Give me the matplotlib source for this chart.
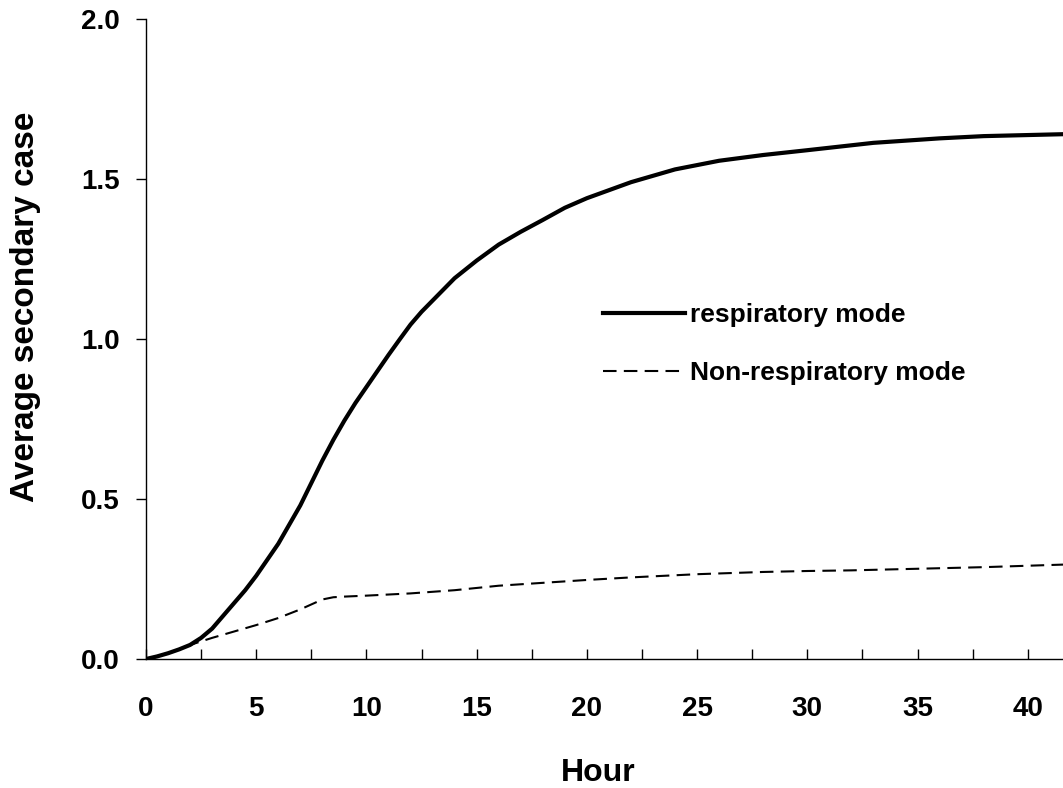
import matplotlib
matplotlib.use("Agg")
import matplotlib.pyplot as plt
from matplotlib.ticker import MultipleLocator

plt.rcParams['font.family'] = ['Liberation Sans', 'DejaVu Sans']
plt.rcParams['font.weight'] = 'bold'

# Respiratory mode (solid)
resp_hours = [0, 0.5, 1, 1.5, 2, 2.5, 3, 3.5, 4, 4.5, 5, 5.5, 6, 6.5, 7, 7.5, 8, 8.5,
              9, 9.5, 10, 10.5, 11, 11.5, 12, 12.5, 13, 14, 15, 16, 17, 18, 19, 20, 22,
              24, 26, 28, 30, 33, 36, 38, 41.6]
resp_values = [0, 0.008, 0.018, 0.03, 0.044, 0.066, 0.095, 0.135, 0.175, 0.215, 0.26, 0.31,
               0.36, 0.42, 0.48, 0.55, 0.62, 0.685, 0.745, 0.80, 0.85, 0.90, 0.95, 0.998,
               1.045, 1.085, 1.12, 1.19, 1.245, 1.295, 1.335, 1.372, 1.41, 1.44, 1.49,
               1.53, 1.557, 1.575, 1.59, 1.613, 1.627, 1.634, 1.64]

# Non-respiratory mode (dashed)
nonresp_hours = [0, 0.5, 1, 1.5, 2, 3, 4, 5, 6, 7, 8, 8.5, 9, 10, 12, 14, 16, 18, 20, 22,
                 25, 28, 30, 32, 35, 38, 41.6]
nonresp_values = [0, 0.008, 0.018, 0.03, 0.044, 0.066, 0.086, 0.106, 0.128, 0.155, 0.186,
                  0.193, 0.195, 0.198, 0.205, 0.215, 0.229, 0.238, 0.247, 0.255, 0.265,
                  0.272, 0.275, 0.277, 0.282, 0.287, 0.295]

series_labels = ['respiratory mode', 'Non-respiratory mode']
x_ticks = [0, 5, 10, 15, 20, 25, 30, 35, 40]
y_ticks = [0.0, 0.5, 1.0, 1.5, 2.0]

W, H = 1063, 788
fig = plt.figure(figsize=(W / 100, H / 100), dpi=100)
ax = fig.add_axes([146 / W, 1 - 659 / H, (W - 146) / W, (659 - 19) / H])

ax.plot(resp_hours, resp_values, color='black', lw=3.0, label=series_labels[0],
        solid_joinstyle='round')
ax.plot(nonresp_hours, nonresp_values, color='black', lw=1.5, dashes=(6.5, 3.5),
        label=series_labels[1])

ax.set_xlim(0, 41.6)
ax.set_ylim(0, 2.0)

for s in ['top', 'right']:
    ax.spines[s].set_visible(False)
for s in ['left', 'bottom']:
    ax.spines[s].set_linewidth(1.0)
    ax.spines[s].set_color('black')

ax.set_xticks(x_ticks)
ax.set_xticklabels([str(t) for t in x_ticks])
ax.xaxis.set_minor_locator(MultipleLocator(2.5))
ax.set_yticks(y_ticks)
ax.set_yticklabels([f"{t:.1f}" for t in y_ticks])

ax.tick_params(axis='x', which='both', direction='in', length=7, width=1, pad=27,
               labelsize=20, colors='black')
ax.tick_params(axis='y', which='major', direction='out', length=7, width=1, pad=12,
               labelsize=20, colors='black')
for lab in ax.get_xticklabels() + ax.get_yticklabels():
    lab.set_fontweight('bold')

ax.set_xlabel('Hour', fontsize=23, fontweight='bold')
ax.set_ylabel('Average secondary case', fontsize=24, fontweight='bold')
ax.xaxis.set_label_coords(0.493, -0.155)
ax.yaxis.set_label_coords(-0.114, 0.55)

leg = ax.legend(loc='upper left', bbox_to_anchor=(603 / W, 1 - 303 / H),
                bbox_transform=fig.transFigure, frameon=False,
                prop={'weight': 'bold', 'size': 19}, handlelength=3.1,
                handletextpad=0.19, labelspacing=1.3, borderpad=0, borderaxespad=0)

fig.savefig('out.png', dpi=100)
